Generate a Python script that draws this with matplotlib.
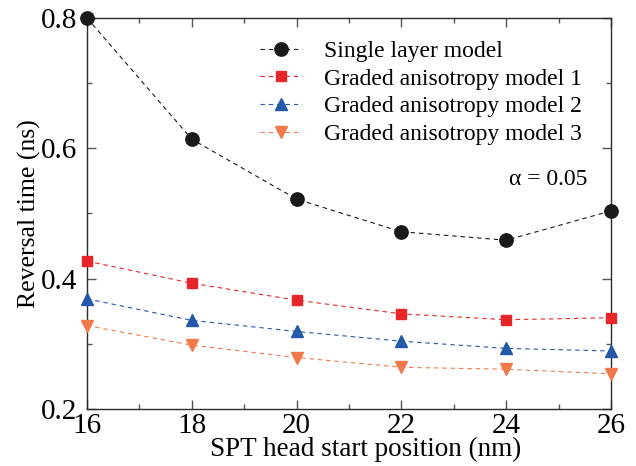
import matplotlib
matplotlib.use("Agg")
import matplotlib.pyplot as plt
from matplotlib.ticker import MultipleLocator

plt.rcParams['font.family'] = ['Liberation Serif', 'DejaVu Serif']

x = [16, 18, 20, 22, 24, 26]
single = [0.800, 0.614, 0.522, 0.472, 0.459, 0.504]
model1 = [0.427, 0.393, 0.367, 0.346, 0.337, 0.340]
model2 = [0.369, 0.336, 0.319, 0.304, 0.293, 0.289]
model3 = [0.328, 0.298, 0.279, 0.264, 0.261, 0.254]
labels = ["Single layer model", "Graded anisotropy model 1",
          "Graded anisotropy model 2", "Graded anisotropy model 3"]

fig = plt.figure(figsize=(6.36, 4.66), dpi=100)
ax = fig.add_axes([87 / 636, 1 - 409 / 466, 524 / 636, 391 / 466])

common = dict(ls='--', lw=0.8, dashes=(4, 3.5), clip_on=False, zorder=5)
ax.plot(x, single, color='#1a1a1a', marker='o', ms=9.6, label=labels[0], **common)
ax.plot(x, model1, color='#e8262a', marker='s', ms=7.6, label=labels[1], **common)
ax.plot(x, model2, color='#2458a8', marker='^', ms=9.2, label=labels[2], **common)
ax.plot(x, model3, color='#f27a4a', marker='v', ms=9.2, label=labels[3], **common)

ax.set_xlim(16, 26)
ax.set_ylim(0.2, 0.8)
ax.xaxis.set_major_locator(MultipleLocator(2))
ax.xaxis.set_minor_locator(MultipleLocator(1))
ax.yaxis.set_major_locator(MultipleLocator(0.2))
ax.yaxis.set_minor_locator(MultipleLocator(0.1))
ax.tick_params(which='both', direction='in', top=True, right=True, labelsize=21,
               color='#555555', width=1.0)
ax.tick_params(which='major', length=6.7)
ax.tick_params(which='minor', length=3.4)
ax.tick_params(axis='x', which='major', pad=3)
ax.tick_params(axis='y', which='major', pad=7)
for s in ax.spines.values():
    s.set_linewidth(1.0)
    s.set_color('#2a2a2a')

ax.set_xlabel("SPT head start position (nm)", fontsize=19.5)
ax.xaxis.set_label_coords(0.531, -0.072)
ax.set_ylabel("Reversal time (ns)", fontsize=18.5, labelpad=0)

ax.legend(loc='upper left', bbox_to_anchor=(0.312, 0.967), frameon=False, fontsize=17,
          handlelength=1.8, handletextpad=0.9, labelspacing=0.26, borderaxespad=0)
ax.text(0.954, 0.586, "α = 0.05", transform=ax.transAxes, ha='right', va='center', fontsize=17)

fig.savefig("out.png", dpi=100)
